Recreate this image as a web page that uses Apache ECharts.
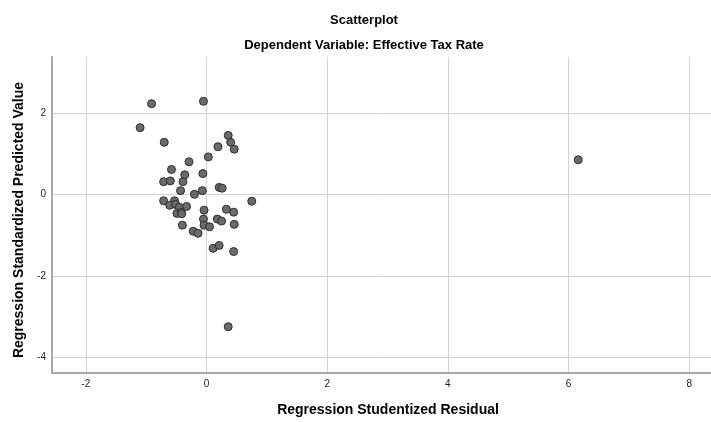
<!DOCTYPE html>
<html>
<head>
<meta charset="utf-8">
<script src="https://cdn.jsdelivr.net/npm/echarts@6/dist/echarts.min.js"></script>
<style>
  html, body { margin: 0; padding: 0; background: #fff; }
  #chart { width: 711px; height: 422px; }
</style>
</head>
<body>
<div id="chart"></div>
<script>
// Regression Studentized Residual (x) vs Regression Standardized Predicted Value (y)
var residual = [
  -0.91, -0.05, -1.10, -0.70, 0.36, 0.40, 0.19, 0.46, 0.03, -0.29,
  -0.58, -0.36, -0.06, -0.71, -0.60, -0.39, 0.21, 0.26, -0.43, -0.07,
  -0.20, 0.75, -0.71, -0.53, -0.61, -0.51, -0.45, -0.33, -0.49, -0.42,
  -0.41, -0.04, -0.05, 0.33, 0.45, 0.18, 0.25, 0.46, -0.40, -0.04,
  0.05, -0.22, -0.14, 0.11, 0.21, 0.45, 6.16, 0.36
];
var predicted = [
  2.24, 2.30, 1.65, 1.29, 1.46, 1.29, 1.18, 1.12, 0.93, 0.81,
  0.62, 0.49, 0.52, 0.32, 0.34, 0.32, 0.18, 0.16, 0.10, 0.10,
  0.01, -0.16, -0.15, -0.15, -0.26, -0.24, -0.31, -0.29, -0.46, -0.43,
  -0.47, -0.38, -0.60, -0.36, -0.43, -0.60, -0.65, -0.73, -0.75, -0.75,
  -0.79, -0.90, -0.95, -1.32, -1.25, -1.40, 0.86, -3.25
];
var xTicks = [-2, 0, 2, 4, 6, 8];
var yTicks = [-4, -2, 0, 2];

var points = residual.map(function (x, i) { return [x, predicted[i]]; });

var labelFont = "'Liberation Sans Narrow', 'Liberation Sans', Arial, sans-serif";
var titleFont = "'Liberation Sans', Arial, sans-serif";

var chart = echarts.init(document.getElementById('chart'));
chart.setOption({
  animation: false,
  title: [
    {
      text: 'Scatterplot',
      left: 364, top: 14, padding: 0,
      textAlign: 'center',
      textStyle: { fontFamily: titleFont, fontSize: 13, fontWeight: 'bold', color: '#000' }
    },
    {
      text: 'Dependent Variable: Effective Tax Rate',
      left: 364, top: 39, padding: 0,
      textAlign: 'center',
      textStyle: { fontFamily: titleFont, fontSize: 13, fontWeight: 'bold', color: '#000' }
    }
  ],
  grid: { left: 52, right: 0, top: 57, bottom: 45, containLabel: false },
  xAxis: {
    type: 'value',
    min: -2.56, max: 8.36,
    name: 'Regression Studentized Residual',
    nameLocation: 'middle',
    nameGap: 30,
    nameTextStyle: { fontFamily: titleFont, fontSize: 14, fontWeight: 'bold', color: '#000', padding: [0, 0, 0, 13] },
    axisLine: { onZero: false, lineStyle: { color: '#a8a8a8', width: 2 } },
    axisTick: { show: false, customValues: xTicks },
    axisLabel: { customValues: xTicks, fontFamily: labelFont, fontSize: 10, color: '#222', margin: 6 },
    splitLine: { show: true, lineStyle: { color: '#d2d2d2', width: 1 } }
  },
  yAxis: {
    type: 'value',
    min: -4.39, max: 3.39,
    name: 'Regression Standardized Predicted Value',
    nameLocation: 'middle',
    nameGap: 22,
    nameTextStyle: { fontFamily: titleFont, fontSize: 14, fontWeight: 'bold', color: '#000', padding: [0, 10, 0, 0] },
    axisLine: { show: true, onZero: false, lineStyle: { color: '#a8a8a8', width: 2 } },
    axisTick: { show: false, customValues: yTicks },
    axisLabel: { customValues: yTicks, fontFamily: labelFont, fontSize: 10, color: '#222', margin: 6 },
    splitLine: { show: true, lineStyle: { color: '#d2d2d2', width: 1 } }
  },
  series: [
    {
      type: 'scatter',
      data: points,
      symbolSize: 8,
      itemStyle: { color: '#6a6a6a', borderColor: '#2e2e2e', borderWidth: 1, opacity: 1 }
    }
  ]
});
</script>
</body>
</html>
